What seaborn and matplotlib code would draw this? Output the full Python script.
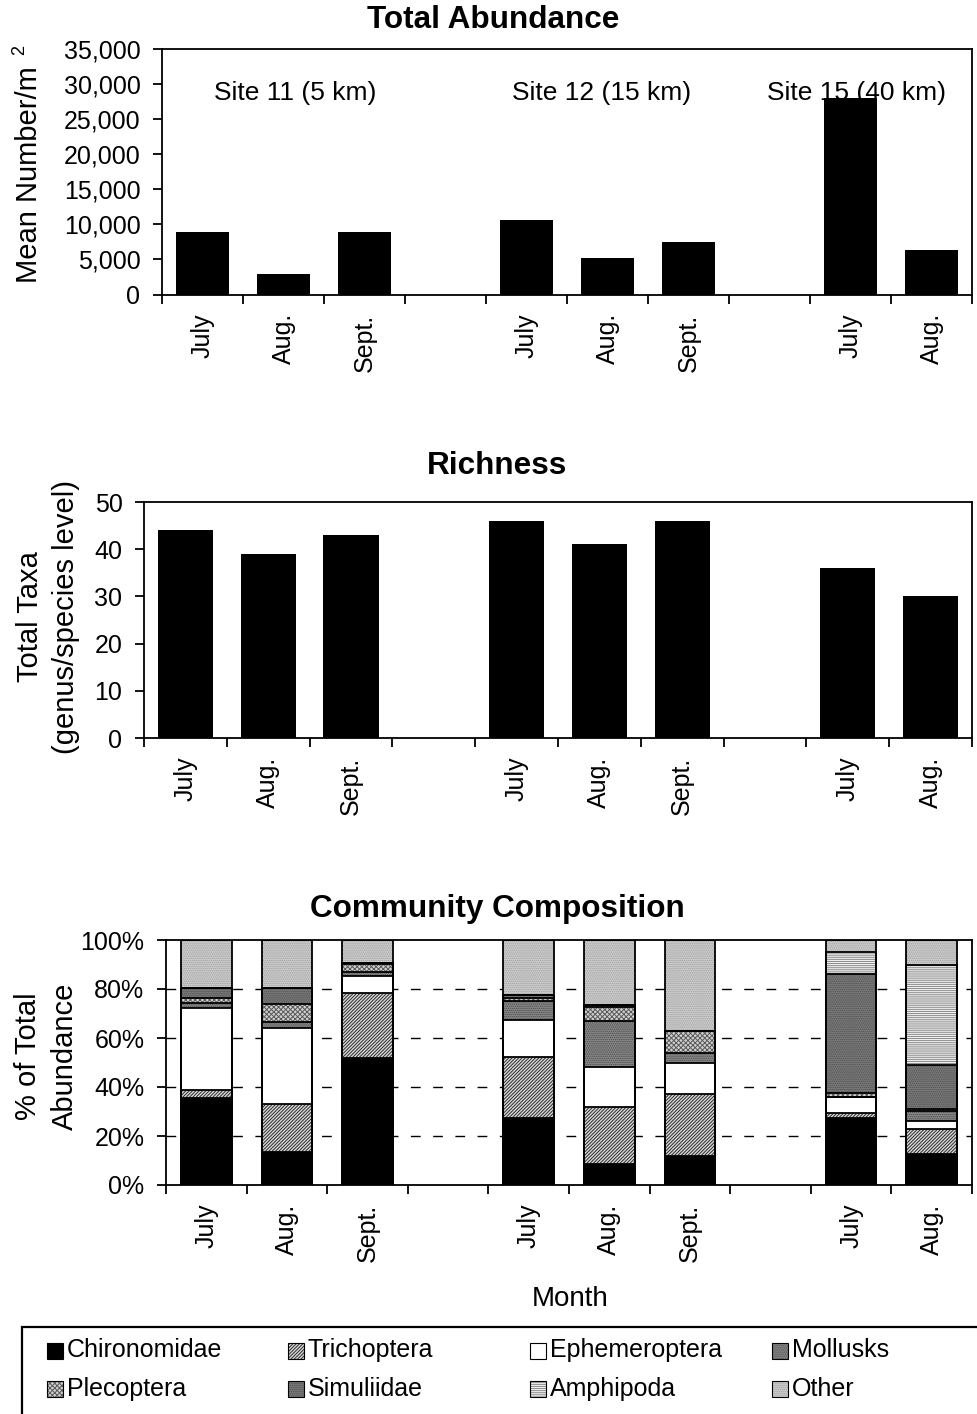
import numpy as np
import pandas as pd
import matplotlib
matplotlib.use("Agg")
import matplotlib.pyplot as plt
from matplotlib.patches import Rectangle
from matplotlib.ticker import FuncFormatter, MultipleLocator
import seaborn as sns

sns.set_style("ticks")
plt.rcParams['font.family'] = ['Liberation Sans', 'DejaVu Sans']
plt.rcParams['hatch.linewidth'] = 0.7
for key in ['text.color', 'axes.labelcolor', 'xtick.color', 'ytick.color', 'axes.edgecolor']:
    plt.rcParams[key] = 'black'

# ---------------- data ----------------
slot_keys = ["11-Jul", "11-Aug", "11-Sep", "gap-a", "12-Jul", "12-Aug", "12-Sep", "gap-b", "15-Jul", "15-Aug"]
month_labels = ["July", "Aug.", "Sept.", "", "July", "Aug.", "Sept.", "", "July", "Aug."]
sample_keys = ["11-Jul", "11-Aug", "11-Sep", "12-Jul", "12-Aug", "12-Sep", "15-Jul", "15-Aug"]
site_labels = ["Site 11 (5 km)", "Site 12 (15 km)", "Site 15 (40 km)"]

abundance = [8900, 2900, 8900, 10600, 5200, 7500, 28000, 6300]
richness = [44, 39, 43, 46, 41, 46, 36, 30]

taxa = ["Chironomidae", "Trichoptera", "Ephemeroptera", "Mollusks",
        "Plecoptera", "Simuliidae", "Amphipoda", "Other"]
chironomidae = [35.5, 13.6, 51.9, 27.5, 8.5, 11.9, 27.5, 12.6]
trichoptera = [3.3, 19.3, 26.4, 24.7, 23.5, 25.1, 2.0, 10.4]
ephemeroptera = [33.3, 31.2, 7.1, 15.3, 16.1, 12.9, 6.4, 3.1]
mollusks = [2.1, 2.4, 1.7, 7.4, 18.7, 4.0, 0.0, 4.1]
plecoptera = [2.0, 7.5, 3.1, 1.4, 5.7, 8.8, 1.8, 1.0]
simuliidae = [4.1, 6.6, 0.5, 1.3, 1.1, 0.0, 48.5, 17.6]
amphipoda = [0.0, 0.0, 0.0, 0.0, 0.0, 0.0, 9.1, 41.1]
other = [19.7, 19.4, 9.3, 22.4, 26.4, 37.3, 4.7, 10.1]
composition = [chironomidae, trichoptera, ephemeroptera, mollusks,
               plecoptera, simuliidae, amphipoda, other]

# fill styles: (face, hatch, hatch colour)
styles = {
    "Chironomidae": ("#000000", None, "#000000"),
    "Trichoptera": ("#d9d9d9", "//////////", "#2a2a2a"),
    "Ephemeroptera": ("#ffffff", None, "#ffffff"),
    "Mollusks": ("#8a8a8a", "........", "#4a4a4a"),
    "Plecoptera": ("#d0d0d0", "xxxxxxx", "#5a5a5a"),
    "Simuliidae": ("#7a7a7a", "........", "#505050"),
    "Amphipoda": ("#f0f0f0", "--------", "#8a8a8a"),
    "Other": ("#cdcdcd", "........", "#a0a0a0"),
}

# ---------------- figure ----------------
W, H = 977, 1414
fig = plt.figure(figsize=(W / 100, H / 100), dpi=100)


def px_axes(left, top, right, bottom):
    return fig.add_axes([left / W, 1 - bottom / H, (right - left) / W, (bottom - top) / H])


def ftext(x, y, s, **kw):
    return fig.text(x / W, 1 - y / H, s, **kw)


ax1 = px_axes(162, 49, 972, 294.5)
ax2 = px_axes(144, 502, 972, 738)
ax3 = px_axes(166, 940, 972, 1185)

TICK_FS = 18
LAB_FS = 21


def style_axes(ax):
    ax.set_xlim(-0.5, 9.5)
    ax.set_xticks(np.arange(-0.5, 10, 1.0))
    ax.set_xticklabels([])
    ax.set_xticks(np.arange(10), minor=True)
    ax.set_xticklabels(month_labels, minor=True, rotation=90, fontsize=TICK_FS)
    ax.tick_params(axis='x', which='major', direction='out', length=6.5, width=1.3, color='black')
    ax.tick_params(axis='x', which='minor', length=0, pad=13.5)
    ax.tick_params(axis='y', direction='out', length=6.5, width=1.3, pad=9,
                   labelsize=TICK_FS, color='black')
    for s in ax.spines.values():
        s.set_linewidth(1.3)
        s.set_color('black')
        s.set_visible(True)
        s.set_zorder(5)
    ax.set_xlabel("")
    ax.set_ylabel("")


# ---- Total abundance ----
sns.barplot(x=sample_keys, y=abundance, order=slot_keys, color="black", saturation=1,
            width=0.655, errorbar=None, ax=ax1, zorder=3, linewidth=0)
ax1.set_ylim(0, 35000)
ax1.yaxis.set_major_locator(MultipleLocator(5000))
ax1.yaxis.set_major_formatter(FuncFormatter(lambda v, p: f"{v:,.0f}"))
style_axes(ax1)
for lab, xc in zip(site_labels, [1.15, 4.93, 8.08]):
    ax1.text(xc, 27800, lab, ha='center', va='baseline', fontsize=19, zorder=2)

# ---- Richness ----
sns.barplot(x=sample_keys, y=richness, order=slot_keys, color="black", saturation=1,
            width=0.665, errorbar=None, ax=ax2, zorder=3, linewidth=0)
ax2.set_ylim(0, 50)
ax2.yaxis.set_major_locator(MultipleLocator(10))
style_axes(ax2)

# ---- Community composition ----
cum = np.cumsum(np.array(composition), axis=0)
for i in range(len(taxa) - 1, -1, -1):
    face, hatch, hc = styles[taxa[i]]
    kw = dict(hatch=hatch) if hatch else {}
    sns.barplot(x=sample_keys, y=cum[i], order=slot_keys, color=face, saturation=1,
                width=0.63, errorbar=None, ax=ax3, edgecolor=hc, linewidth=0, **kw)
for i in range(len(taxa)):
    sns.barplot(x=sample_keys, y=cum[i], order=slot_keys, color="black", fill=False,
                width=0.63, errorbar=None, ax=ax3, linewidth=1.3)
ax3.set_ylim(0, 100)
ax3.yaxis.set_major_locator(MultipleLocator(20))
ax3.yaxis.set_major_formatter(FuncFormatter(lambda v, p: f"{v:.0f}%"))
style_axes(ax3)
ax3.set_axisbelow(True)
ax3.yaxis.grid(True, color='black', linestyle=(0, (7, 9)), linewidth=1.0)
fig.canvas.draw()
for tick in ax3.yaxis.get_major_ticks():
    v = tick.get_loc()
    if v <= 0.5 or v >= 99.5:
        tick.gridline.set_visible(False)

# ---------------- titles / labels ----------------
ftext(493, 28.5, "Total Abundance", ha='center', va='baseline', fontsize=22.7, fontweight='bold')
ftext(497, 474, "Richness", ha='center', va='baseline', fontsize=22.7, fontweight='bold')
ftext(497, 917, "Community Composition", ha='center', va='baseline', fontsize=22.7, fontweight='bold')

ftext(37.5, 175, "Mean Number/m", rotation=90, rotation_mode='anchor',
      ha='center', va='baseline', fontsize=LAB_FS)
ftext(24, 50, "2", rotation=90, rotation_mode='anchor', ha='center', va='baseline', fontsize=13)

ftext(38.5, 616.5, "Total Taxa", rotation=90, rotation_mode='anchor',
      ha='center', va='baseline', fontsize=LAB_FS)
ftext(73.5, 616.5, "(genus/species level)", rotation=90, rotation_mode='anchor',
      ha='center', va='baseline', fontsize=LAB_FS)

ftext(35.5, 1056.5, "% of Total", rotation=90, rotation_mode='anchor',
      ha='center', va='baseline', fontsize=LAB_FS)
ftext(73, 1056.5, "Abundance", rotation=90, rotation_mode='anchor',
      ha='center', va='baseline', fontsize=LAB_FS)

ftext(570, 1306, "Month", ha='center', va='baseline', fontsize=20)

# ---------------- legend ----------------
fig.add_artist(Rectangle((21.7 / W, 1 - 1440 / H), (1000 - 21.7) / W, (1440 - 1326.7) / H,
                         transform=fig.transFigure, fill=False, edgecolor='black',
                         linewidth=1.6, clip_on=False))
col_x = [47, 288, 530, 772]
row_top = [1343, 1381]
row_base = [1357, 1396]
msz = 16
for k, name in enumerate(taxa):
    r, c = divmod(k, 4)
    face, hatch, hc = styles[name]
    x0 = col_x[c]
    y0 = row_top[r]
    fig.add_artist(Rectangle((x0 / W, 1 - (y0 + msz) / H), msz / W, msz / H,
                             transform=fig.transFigure, facecolor=face, edgecolor=hc,
                             linewidth=0, hatch=hatch))
    fig.add_artist(Rectangle((x0 / W, 1 - (y0 + msz) / H), msz / W, msz / H,
                             transform=fig.transFigure, fill=False, edgecolor='black',
                             linewidth=0.8))
    ftext(x0 + msz + 4, row_base[r], name, ha='left', va='baseline', fontsize=18)

fig.savefig("out.png", dpi=100)
